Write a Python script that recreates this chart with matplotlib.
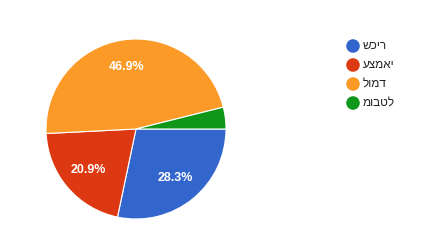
import matplotlib
matplotlib.use('Agg')
import matplotlib.pyplot as plt

# Data
labels = ['שכיר', 'עצמאי', 'לומד', 'מובטל']
values = [28.3, 20.9, 46.9, 3.9]
colors = ['#3366CC', '#DC3912', '#FC9A27', '#109618']

plt.rcParams['font.family'] = ['Liberation Sans', 'DejaVu Sans']

W, H = 438, 252
fig = plt.figure(figsize=(W / 100, H / 100), dpi=100)

# Pie: center (136, 129), radius 90 px
cx, cy, r = 136, 129, 90
ax = fig.add_axes([(cx - r) / W, 1 - (cy + r) / H, 2 * r / W, 2 * r / H])


def pct(p):
    return f'{p:.1f}%' if p > 5 else ''


wedges, texts, autotexts = ax.pie(
    values, colors=colors, startangle=0, counterclock=False,
    autopct=pct, pctdistance=0.7,
    wedgeprops=dict(edgecolor='white', linewidth=0.8))
for t in autotexts:
    t.set_color('white')
    t.set_fontsize(9)
    t.set_fontweight('bold')
ax.set_xlim(-1, 1)
ax.set_ylim(-1, 1)
ax.set_aspect('equal')

# Legend drawn by hand in a full-figure overlay axes (pixel coords)
lax = fig.add_axes([0, 0, 1, 1])
lax.set_xlim(0, W)
lax.set_ylim(H, 0)
lax.axis('off')
for i, (lab, col) in enumerate(zip(labels, colors)):
    y = 46 + i * 19
    lax.scatter([353], [y], s=95, color=col, edgecolors='none')
    lax.text(363, y, lab, fontsize=8.5, va='center', ha='left',
             color='#222222')

fig.savefig('out.png', dpi=100)
